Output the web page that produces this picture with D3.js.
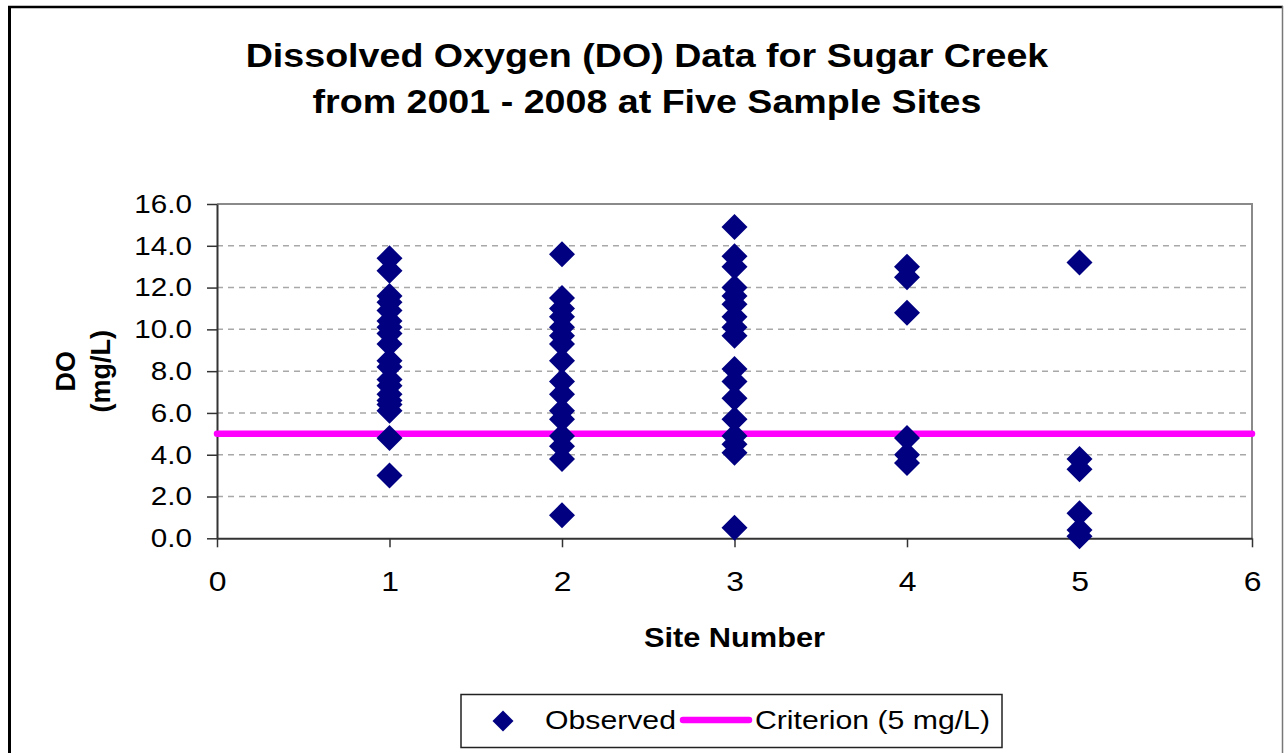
<!DOCTYPE html>
<html>
<head>
<meta charset="utf-8">
<script src="https://cdn.jsdelivr.net/npm/d3@7"></script>
<style>
  body { margin: 0; background: #fff; }
  text { font-family: "Liberation Sans", Arial, sans-serif; fill: #000; }
</style>
</head>
<body>
<div id="chart"></div>
<script>
const site1 = [13.4, 12.8, 11.6, 11.3, 10.9, 10.4, 10.1, 9.8, 9.3, 8.5, 8.2, 7.6, 7.3, 6.9, 6.6, 6.4, 6.1, 4.8, 3.0];
const site2 = [13.6, 11.5, 11.0, 10.6, 10.1, 9.7, 9.3, 8.5, 7.5, 6.9, 6.1, 5.7, 4.9, 4.4, 3.8, 1.1];
const site3 = [14.9, 13.5, 13.0, 12.0, 11.6, 11.2, 10.6, 10.1, 9.7, 8.1, 7.5, 6.7, 5.7, 4.9, 4.5, 4.1, 0.5];
const site4 = [13.0, 12.5, 10.8, 4.8, 4.0, 3.6];
const site5 = [13.2, 3.8, 3.3, 1.2, 0.4, 0.1];
const siteNumbers = [1, 2, 3, 4, 5];
const criterion = 5;
const xTicks = [0, 1, 2, 3, 4, 5, 6];
const yTicks = [0, 2, 4, 6, 8, 10, 12, 14, 16];

const svgWidth = 1284, svgHeight = 753;
const plot = { left: 217, right: 1252, top: 204, bottom: 538.3 };
// the original picture is a little stretched sideways, so text is widened to match
const kx = 1.14;
const widen = a => `translate(${a},0) scale(${kx},1) translate(${-a},0)`;

const svg = d3.select("#chart")
  .append("svg")
  .attr("width", svgWidth)
  .attr("height", svgHeight);

// outer chart frame (bottom edge falls off the picture)
svg.append("line").attr("x1", 9.5).attr("x2", 9.5).attr("y1", 6).attr("y2", 760)
  .attr("stroke", "#000").attr("stroke-width", 3);
svg.append("line").attr("x1", 8).attr("x2", 1283).attr("y1", 7).attr("y2", 7)
  .attr("stroke", "#000").attr("stroke-width", 2.5);
svg.append("line").attr("x1", 1282.5).attr("x2", 1282.5).attr("y1", 6).attr("y2", 760)
  .attr("stroke", "#777").attr("stroke-width", 1.5);

// title
const title = svg.append("text")
  .attr("text-anchor", "middle")
  .attr("font-size", 33)
  .attr("font-weight", "bold")
  .attr("transform", widen(647));
title.append("tspan").attr("x", 647).attr("y", 67).text("Dissolved Oxygen (DO) Data for Sugar Creek");
title.append("tspan").attr("x", 647).attr("y", 113).text("from 2001 - 2008 at Five Sample Sites");

const x = d3.scaleLinear().domain([0, 6]).range([plot.left, plot.right]);
const y = d3.scaleLinear().domain([0, 16]).range([plot.bottom, plot.top]);

// gridlines
svg.append("g")
  .selectAll("line")
  .data(yTicks.filter(d => d > 0 && d < 16))
  .enter()
  .append("line")
  .attr("x1", plot.left).attr("x2", plot.right)
  .attr("y1", d => y(d)).attr("y2", d => y(d))
  .attr("stroke", "#a8a8a8")
  .attr("stroke-width", 1.5)
  .attr("stroke-dasharray", "6,5");

// plot frame (top/right)
svg.append("path")
  .attr("d", `M${plot.left},${plot.top}H${plot.right}V${plot.bottom}`)
  .attr("fill", "none")
  .attr("stroke", "#8a8a8a")
  .attr("stroke-width", 2);

// axes
const leftAxis = d3.axisLeft(y).tickValues(yTicks).tickFormat(d3.format(".1f"))
  .tickSize(10).tickSizeOuter(0).tickPadding(15);
const bottomAxis = d3.axisBottom(x).tickValues(xTicks).tickFormat(d3.format("d"))
  .tickSize(9).tickSizeOuter(0).tickPadding(24);

const yAxis = svg.append("g")
  .attr("transform", `translate(${plot.left},0)`)
  .call(leftAxis);
const xAxis = svg.append("g")
  .attr("transform", `translate(0,${plot.bottom})`)
  .call(bottomAxis);

[yAxis, xAxis].forEach(g => {
  g.select(".domain").attr("stroke", "#333").attr("stroke-width", 2);
  g.selectAll(".tick line").attr("stroke", "#333").attr("stroke-width", 1.5);
  g.selectAll(".tick text")
    .attr("font-family", "Liberation Sans, Arial, sans-serif")
    .attr("fill", "#000");
});
yAxis.selectAll(".tick text").attr("font-size", 26).attr("transform", widen(-25));
xAxis.selectAll(".tick text").attr("font-size", 28).attr("transform", widen(0));

// axis titles
svg.append("text")
  .attr("x", (plot.left + plot.right) / 2)
  .attr("y", 647)
  .attr("text-anchor", "middle")
  .attr("font-size", 27)
  .attr("font-weight", "bold")
  .attr("transform", widen((plot.left + plot.right) / 2))
  .text("Site Number");

const yTitle = svg.append("text")
  .attr("transform", `translate(0,${(plot.top + plot.bottom) / 2}) rotate(-90)`)
  .attr("text-anchor", "middle")
  .attr("font-size", 27)
  .attr("font-weight", "bold");
yTitle.append("tspan").attr("x", 0).attr("y", 75).text("DO");
yTitle.append("tspan").attr("x", 0).attr("y", 110).text("(mg/L)");

// criterion line
svg.append("line")
  .attr("x1", x(0)).attr("x2", x(6))
  .attr("y1", y(criterion)).attr("y2", y(criterion))
  .attr("stroke", "#ff00ff")
  .attr("stroke-width", 6.5)
  .attr("stroke-linecap", "round");

// observed points
const observed = [];
[site1, site2, site3, site4, site5].forEach((vals, i) => {
  vals.forEach(v => observed.push({ site: siteNumbers[i], value: v }));
});

const diamond = d3.symbol().type(d3.symbolSquare).size(338);
svg.append("g")
  .selectAll("path")
  .data(observed)
  .enter()
  .append("path")
  .attr("d", diamond)
  .attr("transform", d => `translate(${x(d.site)},${y(d.value)}) rotate(45)`)
  .attr("fill", "#000080");

// legend
const legend = svg.append("g");
legend.append("rect")
  .attr("x", 461).attr("y", 694.5)
  .attr("width", 541).attr("height", 53)
  .attr("fill", "#fff")
  .attr("stroke", "#222")
  .attr("stroke-width", 1.5);
legend.append("path")
  .attr("d", d3.symbol().type(d3.symbolSquare).size(220))
  .attr("transform", "translate(503,721) rotate(45)")
  .attr("fill", "#000080");
legend.append("text")
  .attr("x", 545).attr("y", 729)
  .attr("font-size", 26.5)
  .attr("transform", widen(545))
  .text("Observed");
legend.append("line")
  .attr("x1", 683).attr("x2", 749)
  .attr("y1", 720).attr("y2", 720)
  .attr("stroke", "#ff00ff")
  .attr("stroke-width", 6.5)
  .attr("stroke-linecap", "round");
legend.append("text")
  .attr("x", 755).attr("y", 729)
  .attr("font-size", 26.5)
  .attr("transform", widen(755))
  .text("Criterion (5 mg/L)");
</script>
</body>
</html>
